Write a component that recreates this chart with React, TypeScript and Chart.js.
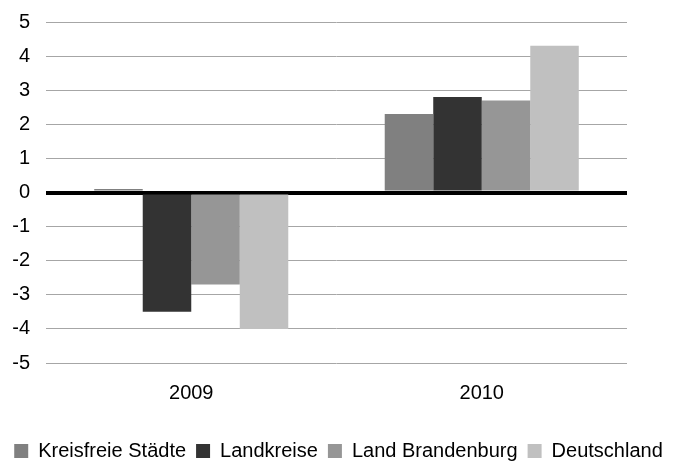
import React, { useEffect, useRef } from "react";
import { Chart, registerables } from "chart.js";

Chart.register(...registerables);

const categories = ["2009", "2010"];
const seriesNames = ["Kreisfreie Städte", "Landkreise", "Land Brandenburg", "Deutschland"];
const kreisfreieStaedte = [0.1, 2.3];
const landkreise = [-3.5, 2.8];
const landBrandenburg = [-2.7, 2.7];
const deutschland = [-4.0, 4.3];
const seriesColors = ["#808080", "#333333", "#969696", "#c0c0c0"];
const yTicks = [-5, -4, -3, -2, -1, 0, 1, 2, 3, 4, 5];

export default function App() {
  const ref = useRef<HTMLCanvasElement | null>(null);
  useEffect(() => {
    document.body.style.margin = "0";
    const values = [kreisfreieStaedte, landkreise, landBrandenburg, deutschland];
    const font = { family: "Liberation Sans", size: 20 };
    const chart = new Chart(ref.current as HTMLCanvasElement, {
      type: "bar",
      data: {
        labels: categories,
        datasets: seriesNames.map((n, i) => ({
          label: n,
          data: values[i],
          backgroundColor: seriesColors[i],
          borderWidth: 0,
          categoryPercentage: 0.668,
          barPercentage: 1,
        })),
      },
      options: {
        animation: false,
        responsive: false,
        maintainAspectRatio: false,
        layout: { padding: { left: 0, right: 0, top: 22, bottom: -10 } },
        scales: {
          x: {
            grid: { display: false },
            border: { display: false },
            ticks: { color: "#000", font, padding: 10 },
            afterFit: (scale: any) => {
              scale.height += 16;
            },
          },
          y: {
            min: -5,
            max: 5,
            afterBuildTicks: (scale: any) => {
              scale.ticks = yTicks.map((v) => ({ value: v }));
            },
            afterFit: (scale: any) => {
              scale.width = 46;
              scale.paddingTop = 0;
              scale.paddingBottom = 0;
            },
            grid: {
              drawTicks: false,
              color: (ctx: any) => (ctx.tick && ctx.tick.value === 0 ? "#000" : "#a6a6a6"),
              lineWidth: (ctx: any) => (ctx.tick && ctx.tick.value === 0 ? 4 : 1),
            },
            border: { display: false },
            ticks: { color: "#000", font, padding: 16, autoSkip: false },
          },
          yRight: {
            position: "right",
            display: true,
            grid: { display: false },
            border: { display: false },
            ticks: { display: false },
            afterFit: (scale: any) => {
              scale.width = 50;
              scale.paddingTop = 0;
              scale.paddingBottom = 0;
            },
          },
        },
        plugins: {
          legend: {
            position: "bottom",
            labels: {
              boxWidth: 14,
              boxHeight: 14,
              padding: 10,
              color: "#000",
              font,
            },
          },
          tooltip: { enabled: false },
        },
      },
    });
    return () => chart.destroy();
  }, []);
  return (
    <div style={{ width: 677, height: 461 }}>
      <canvas ref={ref} width={677} height={461} style={{ width: 677, height: 461, display: "block" }} />
    </div>
  );
}
